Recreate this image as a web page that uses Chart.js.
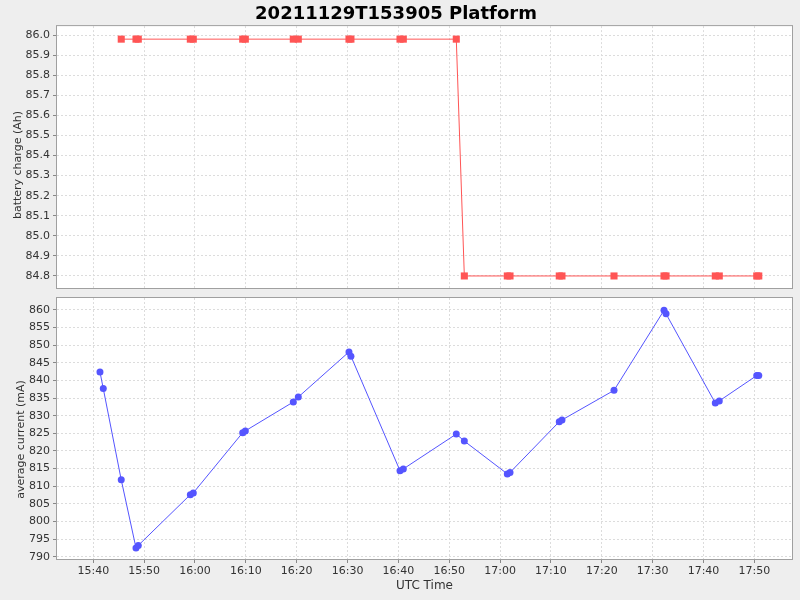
<!DOCTYPE html>
<html>
<head>
<meta charset="utf-8">
<script src="https://cdn.jsdelivr.net/npm/chart.js@4.4.0/dist/chart.umd.min.js"></script>
<style>
  html, body { margin: 0; padding: 0; background: #eeeeee; }
  #wrap { position: relative; width: 800px; height: 600px; }
  #top { position: absolute; left: 0; top: 0; }
  #bottom { position: absolute; left: 0; top: 290px; }
</style>
</head>
<body>
<div id="wrap">
  <canvas id="top" width="800" height="290"></canvas>
  <canvas id="bottom" width="800" height="310"></canvas>
</div>
<script>
const chartTitle = "20211129T153905 Platform";

// battery charge samples
const chargeTimes = ["15:45:30", "15:48:24", "15:48:51", "15:59:05", "15:59:40", "16:09:23", "16:09:54",
  "16:19:20", "16:20:19", "16:30:17", "16:30:40", "16:40:19", "16:40:58", "16:51:23",
  "16:52:58", "17:01:25", "17:01:57", "17:11:38", "17:12:10", "17:22:24", "17:32:14",
  "17:32:38", "17:42:19", "17:43:06", "17:50:28", "17:50:52"];
const chargeValues = [85.98, 85.98, 85.98, 85.98, 85.98, 85.98, 85.98,
  85.98, 85.98, 85.98, 85.98, 85.98, 85.98, 85.98,
  84.80, 84.80, 84.80, 84.80, 84.80, 84.80, 84.80,
  84.80, 84.80, 84.80, 84.80, 84.80];

// average current samples
const currentTimes = ["15:41:19", "15:41:58", "15:45:30", "15:48:24", "15:48:51", "15:59:05", "15:59:40",
  "16:09:23", "16:09:54", "16:19:20", "16:20:19", "16:30:17", "16:30:40", "16:40:19",
  "16:40:58", "16:51:23", "16:52:58", "17:01:25", "17:01:57", "17:11:38", "17:12:10",
  "17:22:24", "17:32:14", "17:32:38", "17:42:19", "17:43:06", "17:50:28", "17:50:52"];
const currentValues = [842.4, 837.7, 811.8, 792.5, 793.2, 807.6, 808.1,
  825.2, 825.7, 833.9, 835.3, 848.1, 846.9, 814.4,
  814.9, 824.8, 822.8, 813.5, 813.9, 828.3, 828.8,
  837.2, 859.9, 858.9, 833.6, 834.2, 841.4, 841.4];

const xAxisLabel = "UTC Time";
const chargeLabel = "battery charge (Ah)";
const currentLabel = "average current (mA)";

// minutes since midnight
function toMinutes(t) {
  const p = t.split(":").map(Number);
  return p[0] * 60 + p[1] + p[2] / 60;
}
function fmtTime(v) {
  const h = Math.floor(v / 60);
  const m = Math.round(v - h * 60);
  return String(h).padStart(2, "0") + ":" + String(m).padStart(2, "0");
}
function points(times, values) {
  return times.map((t, i) => ({ x: toMinutes(t), y: values[i] }));
}

const FONT = "'DejaVu Sans', sans-serif";
const X_MIN = toMinutes("15:32:52");
const X_MAX = toMinutes("17:57:24");

// white plot area + grey outline, like the reference
const plotFrame = {
  id: "plotFrame",
  beforeDraw(chart) {
    const a = chart.chartArea;
    const ctx = chart.ctx;
    ctx.save();
    ctx.fillStyle = "#ffffff";
    ctx.fillRect(a.left, a.top, a.right - a.left, a.bottom - a.top);
    ctx.restore();
  },
  afterDraw(chart) {
    const a = chart.chartArea;
    const ctx = chart.ctx;
    ctx.save();
    ctx.strokeStyle = "#a0a0a0";
    ctx.lineWidth = 1;
    ctx.strokeRect(a.left - 0.5, a.top - 0.5, a.right - a.left + 1, a.bottom - a.top + 1);
    ctx.restore();
  }
};

// rotated y axis title, drawn a bit below the plot centre as in the reference
const yTitle = {
  id: "yTitle",
  afterDraw(chart, args, opts) {
    const a = chart.chartArea;
    const ctx = chart.ctx;
    ctx.save();
    ctx.translate(opts.x, (a.top + a.bottom) / 2 + opts.shift);
    ctx.rotate(-Math.PI / 2);
    ctx.fillStyle = "#333333";
    ctx.font = "11px " + FONT;
    ctx.textAlign = "center";
    ctx.textBaseline = "middle";
    ctx.fillText(opts.text, 0, 0);
    ctx.restore();
  }
};

function gridOpts() {
  return {
    color: "#dcdcdc",
    tickColor: "#888888",
    tickLength: 4,
    tickBorderDash: [],
    lineWidth: 1
  };
}

function xScale(showLabels) {
  return {
    type: "linear",
    min: X_MIN,
    max: X_MAX,
    grid: Object.assign(gridOpts(), { drawTicks: showLabels }),
    border: { display: false, dash: [2, 2] },
    ticks: {
      display: showLabels,
      stepSize: 10,
      includeBounds: false,
      autoSkip: false,
      maxRotation: 0,
      padding: 2,
      color: "#333333",
      font: { family: FONT, size: 11 },
      callback: (v) => fmtTime(v)
    },
    title: {
      display: showLabels,
      text: xAxisLabel,
      color: "#333333",
      font: { family: FONT, size: 12 },
      padding: { top: 0, bottom: 7 }
    },
    afterFit(scale) {
      scale.height = showLabels ? 41 : 2;
      scale.paddingLeft = 0;
      scale.paddingRight = 0;
    }
  };
}

function yScale(min, max, step, decimals) {
  return {
    min: min,
    max: max,
    grid: gridOpts(),
    border: { display: false, dash: [2, 2] },
    ticks: {
      stepSize: step,
      includeBounds: false,
      autoSkip: false,
      padding: 3,
      color: "#333333",
      font: { family: FONT, size: 11 },
      callback: (v) => Number(v).toFixed(decimals)
    },
    afterFit(scale) {
      scale.width = 57;
      scale.paddingTop = 0;
      scale.paddingBottom = 0;
    }
  };
}

const chargeChart = new Chart(document.getElementById("top"), {
  type: "line",
  data: {
    datasets: [{
      label: chargeLabel,
      data: points(chargeTimes, chargeValues),
      borderColor: "rgb(255,85,85)",
      backgroundColor: "rgb(255,85,85)",
      borderWidth: 1,
      pointStyle: "rect",
      pointRadius: 5,
      pointHoverRadius: 5,
      pointBorderWidth: 0,
      fill: false,
      tension: 0
    }]
  },
  options: {
    responsive: false,
    animation: false,
    layout: { autoPadding: false, padding: { left: 0, right: 8, top: 0, bottom: 0 } },
    plugins: {
      legend: { display: false },
      tooltip: { enabled: false },
      title: {
        display: true,
        text: chartTitle,
        color: "#000000",
        font: { family: FONT, size: 18, weight: "bold" },
        padding: { top: 4, bottom: 0.5 }
      },
      yTitle: { text: chargeLabel, x: 18, shift: 8 }
    },
    scales: {
      x: xScale(false),
      y: yScale(84.74, 86.045, 0.1, 1)
    }
  },
  plugins: [plotFrame, yTitle]
});

const currentChart = new Chart(document.getElementById("bottom"), {
  type: "line",
  data: {
    datasets: [{
      label: currentLabel,
      data: points(currentTimes, currentValues),
      borderColor: "rgb(85,85,255)",
      backgroundColor: "rgb(85,85,255)",
      borderWidth: 1,
      pointStyle: "circle",
      pointRadius: 3.5,
      pointHoverRadius: 3.5,
      pointBorderWidth: 0,
      fill: false,
      tension: 0
    }]
  },
  options: {
    responsive: false,
    animation: false,
    layout: { autoPadding: false, padding: { left: 0, right: 8, top: 8, bottom: 0 } },
    plugins: {
      legend: { display: false },
      tooltip: { enabled: false },
      title: { display: false },
      yTitle: { text: currentLabel, x: 21, shift: 11 }
    },
    scales: {
      x: xScale(true),
      y: yScale(789.35, 863.4, 5, 0)
    }
  },
  plugins: [plotFrame, yTitle]
});
</script>
</body>
</html>
